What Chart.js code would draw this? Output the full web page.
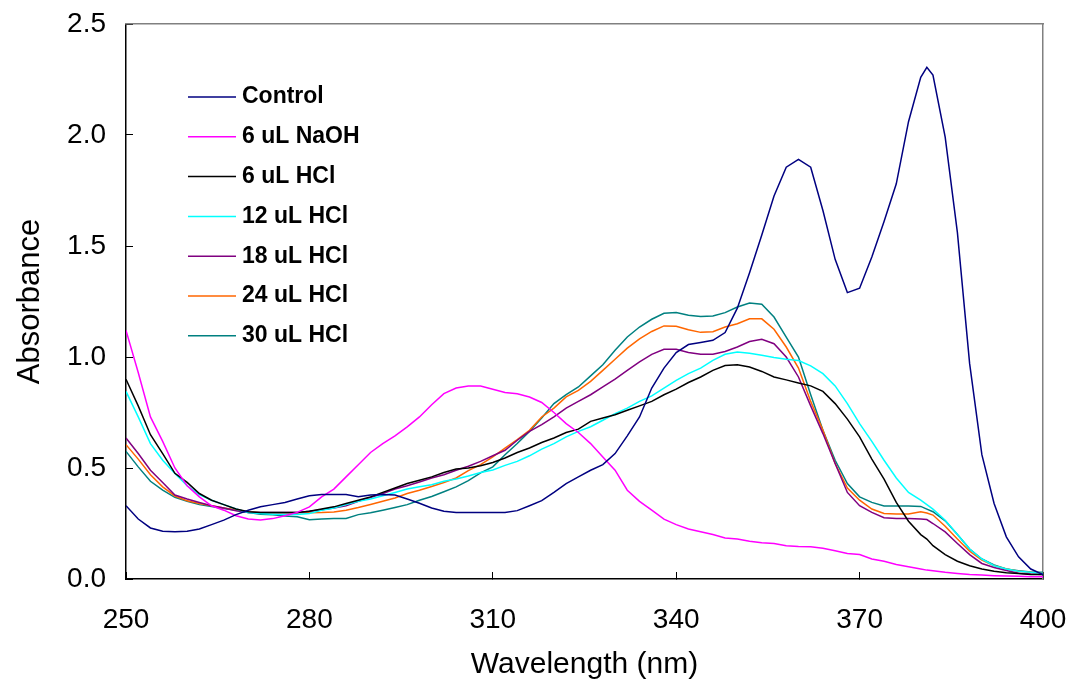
<!DOCTYPE html>
<html>
<head>
<meta charset="utf-8">
<title>Absorbance spectra</title>
<script src="https://cdn.jsdelivr.net/npm/chart.js@4.4.1/dist/chart.umd.min.js"></script>
<style>
  html, body { margin: 0; padding: 0; background: #ffffff; }
  #wrap { width: 1071px; height: 687px; position: relative; }
</style>
</head>
<body>
<div id="wrap"><canvas id="spectraChart"></canvas></div>
<script>
// Wavelength (nm) sample points, shared by every series
const wavelengths = [
  250, 252, 254, 256, 258, 260, 262, 264, 266, 268,
  270, 272, 274, 276, 278, 280, 282, 284, 286, 288,
  290, 292, 294, 296, 298, 300, 302, 304, 306, 308,
  310, 312, 314, 316, 318, 320, 322, 324, 326, 328,
  330, 332, 334, 336, 338, 340, 342, 344, 346, 348,
  350, 352, 354, 356, 358, 360, 362, 364, 366, 368,
  370, 372, 374, 376, 378, 380, 381,
  382, 384, 386, 388, 390, 392, 394, 396, 398, 400
];

const control = [
  0.33, 0.27, 0.23, 0.215, 0.213, 0.215, 0.225, 0.245, 0.265, 0.29,
  0.31, 0.325, 0.335, 0.345, 0.36, 0.375, 0.381, 0.381, 0.381, 0.371,
  0.378, 0.381, 0.378, 0.36, 0.341, 0.32, 0.305, 0.30, 0.30, 0.30,
  0.30, 0.30, 0.308, 0.33, 0.353, 0.39, 0.43, 0.46, 0.49, 0.515,
  0.565, 0.645, 0.73, 0.86, 0.95, 1.02, 1.056, 1.065, 1.075, 1.11,
  1.22, 1.38, 1.55, 1.725, 1.855, 1.89, 1.855, 1.66, 1.44, 1.29,
  1.31, 1.45, 1.61, 1.78, 2.06, 2.26, 2.305,
  2.27, 1.99, 1.56, 0.97, 0.56, 0.34, 0.19, 0.10, 0.045, 0.02
];

const naoh6 = [
  1.12, 0.93, 0.73, 0.62, 0.50, 0.42, 0.37, 0.33, 0.31, 0.285,
  0.27, 0.266, 0.272, 0.285, 0.30, 0.325, 0.37, 0.405, 0.46, 0.515,
  0.57, 0.61, 0.645, 0.685, 0.73, 0.785, 0.835, 0.86, 0.869, 0.869,
  0.855, 0.84, 0.834, 0.82, 0.795, 0.75, 0.70, 0.66, 0.61, 0.55,
  0.49, 0.40, 0.35, 0.31, 0.27, 0.245, 0.225, 0.213, 0.20, 0.185,
  0.18, 0.17, 0.163, 0.16, 0.15, 0.146, 0.145, 0.138, 0.127, 0.115,
  0.11, 0.09, 0.08, 0.065, 0.055, 0.045, 0.04,
  0.037, 0.03, 0.025, 0.02, 0.018, 0.015, 0.013, 0.012, 0.01, 0.01
];

const hcl6 = [
  0.90, 0.78, 0.65, 0.565, 0.476, 0.435, 0.385, 0.355, 0.335, 0.315,
  0.303, 0.30, 0.30, 0.30, 0.30, 0.305, 0.315, 0.325, 0.34, 0.355,
  0.37, 0.39, 0.41, 0.43, 0.445, 0.46, 0.48, 0.495, 0.50, 0.51,
  0.525, 0.545, 0.57, 0.59, 0.615, 0.635, 0.66, 0.675, 0.71, 0.725,
  0.74, 0.76, 0.78, 0.80, 0.83, 0.855, 0.885, 0.91, 0.94, 0.962,
  0.965, 0.955, 0.935, 0.91, 0.897, 0.883, 0.87, 0.845, 0.79, 0.72,
  0.64, 0.54, 0.45, 0.345, 0.26, 0.20, 0.18,
  0.15, 0.11, 0.08, 0.06, 0.045, 0.035, 0.028, 0.025, 0.02, 0.02
];

const hcl12 = [
  0.845, 0.73, 0.61, 0.535, 0.475, 0.42, 0.38, 0.355, 0.335, 0.315,
  0.30, 0.295, 0.292, 0.29, 0.29, 0.295, 0.31, 0.32, 0.335, 0.35,
  0.36, 0.375, 0.39, 0.405, 0.416, 0.425, 0.44, 0.45, 0.464, 0.48,
  0.491, 0.512, 0.53, 0.555, 0.585, 0.61, 0.64, 0.665, 0.686, 0.715,
  0.745, 0.77, 0.80, 0.825, 0.86, 0.895, 0.925, 0.95, 0.985, 1.012,
  1.022, 1.017, 1.008, 0.998, 0.99, 0.984, 0.96, 0.925, 0.87, 0.79,
  0.70, 0.62, 0.535, 0.455, 0.39, 0.355, 0.335,
  0.315, 0.265, 0.20, 0.135, 0.09, 0.06, 0.045, 0.035, 0.03, 0.025
];

const hcl18 = [
  0.635, 0.565, 0.49, 0.435, 0.378, 0.36, 0.345, 0.33, 0.32, 0.307,
  0.30, 0.299, 0.299, 0.299, 0.299, 0.305, 0.312, 0.32, 0.33, 0.35,
  0.367, 0.385, 0.405, 0.42, 0.437, 0.455, 0.47, 0.49, 0.508, 0.53,
  0.555, 0.58, 0.625, 0.665, 0.695, 0.73, 0.77, 0.80, 0.83, 0.865,
  0.90, 0.94, 0.978, 1.012, 1.035, 1.035, 1.02, 1.012, 1.012, 1.025,
  1.045, 1.07, 1.08, 1.06, 1.00, 0.91, 0.78, 0.655, 0.52, 0.39,
  0.33, 0.30, 0.276, 0.273, 0.273, 0.27, 0.268,
  0.25, 0.212, 0.16, 0.11, 0.07, 0.052, 0.038, 0.026, 0.022, 0.02
];

const hcl24 = [
  0.605, 0.54, 0.47, 0.415, 0.374, 0.352, 0.34, 0.33, 0.32, 0.312,
  0.303, 0.298, 0.298, 0.298, 0.298, 0.298, 0.299, 0.302, 0.31, 0.322,
  0.336, 0.35, 0.365, 0.385, 0.40, 0.417, 0.435, 0.455, 0.488, 0.515,
  0.55, 0.59, 0.628, 0.67, 0.73, 0.77, 0.82, 0.85, 0.89, 0.94,
  0.99, 1.04, 1.082, 1.115, 1.14, 1.138, 1.123, 1.111, 1.114, 1.135,
  1.15, 1.172, 1.172, 1.125, 1.045, 0.95, 0.80, 0.67, 0.52, 0.41,
  0.355, 0.315, 0.295, 0.293, 0.293, 0.303, 0.297,
  0.288, 0.238, 0.18, 0.125, 0.085, 0.06, 0.045, 0.035, 0.03, 0.025
];

const hcl30 = [
  0.575, 0.505, 0.44, 0.40, 0.368, 0.35, 0.335, 0.327, 0.318, 0.31,
  0.30, 0.292, 0.289, 0.284, 0.28, 0.267, 0.27, 0.272, 0.273, 0.29,
  0.298, 0.31, 0.322, 0.335, 0.355, 0.372, 0.393, 0.415, 0.443, 0.478,
  0.505, 0.56, 0.61, 0.665, 0.725, 0.79, 0.83, 0.865, 0.915, 0.965,
  1.03, 1.09, 1.135, 1.17, 1.197, 1.20, 1.188, 1.182, 1.185, 1.20,
  1.225, 1.243, 1.238, 1.18, 1.09, 1.00, 0.83, 0.67, 0.535, 0.43,
  0.37, 0.345, 0.329, 0.329, 0.329, 0.327, 0.315,
  0.303, 0.262, 0.20, 0.135, 0.09, 0.063, 0.045, 0.037, 0.032, 0.03
];

const seriesLabels = ["Control", "6 uL NaOH", "6 uL HCl", "12 uL HCl", "18 uL HCl", "24 uL HCl", "30 uL HCl"];
const seriesValues = [control, naoh6, hcl6, hcl12, hcl18, hcl24, hcl30];
const seriesColors = ["#000080", "#FF00FF", "#000000", "#00FFFF", "#800080", "#FF6600", "#008080"];

const xTicks = { min: 250, max: 400, step: 30 };
const yTicks = { min: 0, max: 2.5, step: 0.5 };

const sansFont = "'Liberation Sans', Arial, sans-serif";

// legend drawn inside the plot, top-left like the original
const insideLegend = {
  id: "insideLegend",
  afterDraw(chart) {
    const ctx = chart.ctx;
    ctx.save();
    chart.data.datasets.forEach((ds, i) => {
      const y = 97 + i * 39.8;
      ctx.strokeStyle = ds.borderColor;
      ctx.lineWidth = 1.5;
      ctx.beginPath();
      ctx.moveTo(188, y);
      ctx.lineTo(236, y);
      ctx.stroke();
      ctx.fillStyle = "#000000";
      ctx.font = "bold 23px " + sansFont;
      ctx.textAlign = "left";
      ctx.textBaseline = "middle";
      ctx.fillText(ds.label, 242, y);
    });
    ctx.restore();
  },
};

const datasets = seriesLabels.map((label, i) => ({
  label: label,
  data: wavelengths.map((w, j) => ({ x: w, y: seriesValues[i][j] })),
  borderColor: seriesColors[i],
  backgroundColor: seriesColors[i],
  borderWidth: 1.5,
  pointRadius: 0,
  tension: 0,
  fill: false,
}));

const ctx = document.getElementById("spectraChart").getContext("2d");
new Chart(ctx, {
  type: "line",
  data: { datasets: datasets },
  options: {
    responsive: true,
    maintainAspectRatio: false,
    animation: false,
    devicePixelRatio: 1,
    layout: { padding: { left: 0, top: 24, right: 28, bottom: 0 } },
    plugins: {
      legend: { display: false },
      tooltip: { enabled: false },
    },
    scales: {
      x: {
        type: "linear",
        position: "bottom",
        min: xTicks.min,
        max: xTicks.max,
        // fixed height, and no label overflow pushing the plot in
        afterFit: (scale) => {
          scale.height = 108;
          scale.paddingLeft = 0;
          scale.paddingRight = 0;
        },
        ticks: {
          stepSize: xTicks.step,
          color: "#000000",
          padding: 31,
          maxRotation: 0,
          font: { family: sansFont, size: 28 },
        },
        grid: {
          drawOnChartArea: false,
          tickLength: -7,
          color: "#000000",
        },
        border: { color: "#000000", width: 1.5 },
        title: {
          display: true,
          text: "Wavelength (nm)",
          color: "#000000",
          padding: { top: 0, bottom: 7 },
          font: { family: sansFont, size: 30, lineHeight: 1 },
        },
      },
      y: {
        type: "linear",
        position: "left",
        min: yTicks.min,
        max: yTicks.max,
        afterFit: (scale) => {
          scale.width = 126;
          scale.paddingTop = 0;
          scale.paddingBottom = 0;
        },
        ticks: {
          stepSize: yTicks.step,
          color: "#000000",
          padding: 27,
          callback: (v) => v.toFixed(1),
          font: { family: sansFont, size: 28 },
        },
        grid: {
          drawOnChartArea: false,
          tickLength: -7,
          color: "#000000",
        },
        border: { color: "#000000", width: 1.5 },
        title: {
          display: true,
          text: "Absorbance",
          color: "#000000",
          padding: { top: 15, bottom: 0 },
          font: { family: sansFont, size: 31, lineHeight: 1 },
        },
      },
      x2: {
        type: "linear",
        position: "top",
        min: xTicks.min,
        max: xTicks.max,
        afterFit: (scale) => { scale.height = 0; },
        ticks: { display: false },
        grid: { drawOnChartArea: false, drawTicks: false },
        border: { color: "#808080", width: 1.5 },
      },
      y2: {
        type: "linear",
        position: "right",
        min: yTicks.min,
        max: yTicks.max,
        afterFit: (scale) => { scale.width = 0; },
        ticks: { display: false },
        grid: { drawOnChartArea: false, drawTicks: false },
        border: { color: "#808080", width: 1.5 },
      },
    },
  },
  plugins: [insideLegend],
});
</script>
</body>
</html>
